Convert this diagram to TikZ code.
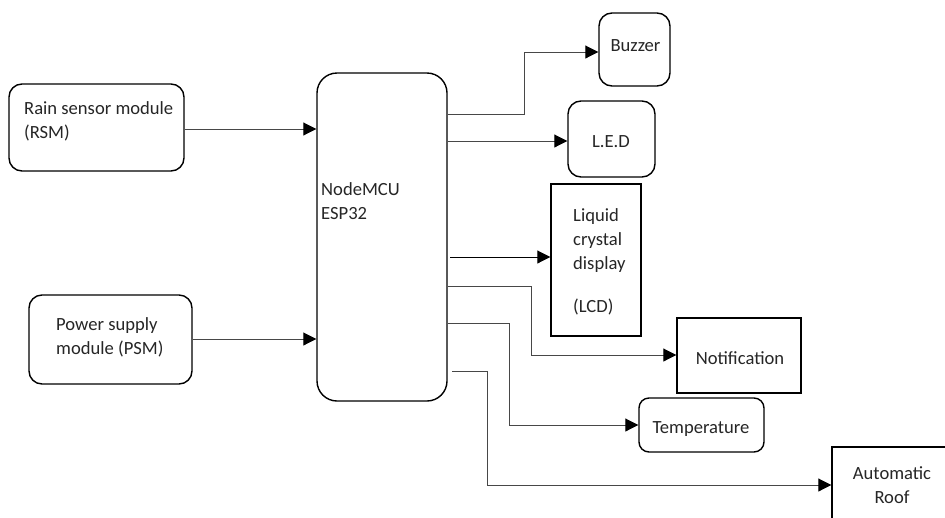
\documentclass[tikz,border=0pt]{standalone}
\usepackage{fontspec}
\setmainfont{Carlito}
\usetikzlibrary{arrows.meta}
\begin{document}
\begin{tikzpicture}[x=1pt,y=-1pt,
  box/.style={draw=black,line width=1.4pt,inner sep=0pt,fill=white},
  rbox/.style={box,rounded corners=13pt},
  txt/.style={inner sep=0pt,font=\fontsize{18.6}{24}\selectfont,text=black!85},
  conn/.style={draw=black!72,line width=0.9pt,-{Triangle[length=13pt,width=13pt,color=black]}}]
\useasboundingbox (0,0) rectangle (945,517);
\clip (0,0) rectangle (945,517);
% boxes
\node[rbox,minimum width=175pt,minimum height=87pt] (rsm) at (96.5,127.5) {};
\node[rbox,minimum width=163pt,minimum height=89pt] (psm) at (110.5,339.5) {};
\node[box,rounded corners=20pt,minimum width=130pt,minimum height=328pt] (mcu) at (382,237) {};
\node[rbox,minimum width=71pt,minimum height=73pt] (buz) at (634.5,49.5) {};
\node[rbox,minimum width=87pt,minimum height=76pt] (led) at (611.5,139) {};
\node[box,minimum width=90pt,minimum height=152pt] (lcd) at (596,260) {};
\node[box,minimum width=124pt,minimum height=75pt] (notif) at (739,355.5) {};
\node[box,rounded corners=10pt,minimum width=125pt,minimum height=54pt] (temp) at (701.5,425) {};
\node[box,minimum width=120pt,minimum height=86pt] (roof) at (892,490) {};
% texts
\node[txt,anchor=north west,align=left] (rsmt) at (24,101) {Rain sensor module\\(RSM)};
\node[txt,anchor=north west,align=left] (psmt) at (56,317.5) {Power supply\\module (PSM)};
\node[txt,anchor=north west,align=left] (mcut) at (321,182.5) {NodeMCU\\ESP32};
\node[txt,anchor=north west,align=left] (lcdt) at (573,208) {Liquid\\crystal\\display\\[19pt](LCD)};
\node[txt,anchor=north,align=center] (rooft) at (892,466) {Automatic\\Roof};
\node[txt,anchor=base] (buzt) at (635.5,51.7) {Buzzer};
\node[txt,anchor=base] (ledt) at (611,147) {L.E.D};
\node[txt,anchor=base] (notift) at (740,364) {Notification};
\node[txt,anchor=base] (tempt) at (701,433) {Temperature};
% connectors
\coordinate (lcdsrc) at (450,257);
\coordinate (roofsrc) at (452,371);
\draw[conn] (rsm.east |- 0,129) -- (mcu.west |- 0,129);
\draw[conn] (psm.east |- 0,339) -- (mcu.west |- 0,339);
\draw[conn] (mcu.east |- 0,114) -- (524,114) -- (524,52) -- (buz.west |- 0,52);
\draw[conn] (mcu.east |- 0,141) -- (led.west |- 0,141);
\draw[conn,draw=black] (lcdsrc) -- (lcd.west |- lcdsrc);
\draw[conn] (mcu.east |- 0,286) -- (531,286) -- (531,355) -- (notif.west |- 0,355);
\draw[conn] (mcu.east |- 0,323) -- (509,323) -- (509,425) -- (temp.west |- 0,425);
\draw[conn] (roofsrc) -- (487,371) -- (487,485) -- (roof.west |- 0,485);
\end{tikzpicture}
\end{document}
